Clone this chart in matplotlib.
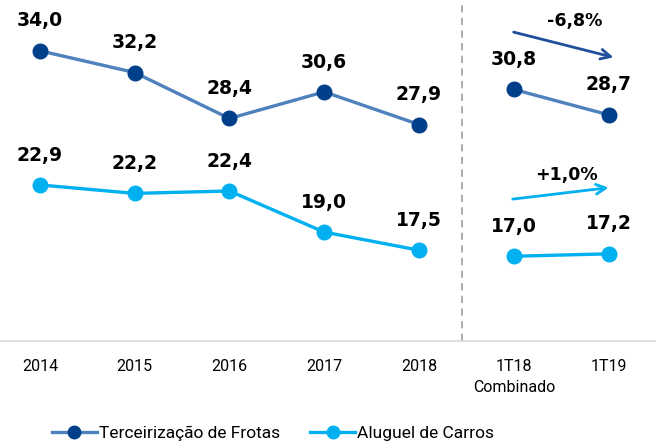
import matplotlib.pyplot as plt
from matplotlib.lines import Line2D

# ---- dati ----
categorias = ["2014", "2015", "2016", "2017", "2018", "1T18\nCombinado", "1T19"]
frotas_anual = [34.0, 32.2, 28.4, 30.6, 27.9]
frotas_tri = [30.8, 28.7]
carros_anual = [22.9, 22.2, 22.4, 19.0, 17.5]
carros_tri = [17.0, 17.2]
var_frotas = "-6,8%"
var_carros = "+1,0%"

cor_frotas_linha = "#4f81bd"
cor_frotas_ponto = "#003f8a"
cor_carros = "#00b0f0"

narrow = ["Roboto", "DejaVu Sans"]
bold_font = "DejaVu Sans"


def fmt(v):
    return f"{v:.1f}".replace(".", ",")


fig = plt.figure(figsize=(6.56, 4.45), dpi=100)
ax = fig.add_axes([0, 0.234, 1, 0.766])

x_anual = list(range(5))
x_tri = [5, 6]

# ---- linhas ----
for xs, ys in [(x_anual, frotas_anual), (x_tri, frotas_tri)]:
    ax.plot(xs, ys, color=cor_frotas_linha, lw=2.4, marker="o", ms=10.5,
            mfc=cor_frotas_ponto, mec=cor_frotas_ponto, zorder=3)
for xs, ys in [(x_anual, carros_anual), (x_tri, carros_tri)]:
    ax.plot(xs, ys, color=cor_carros, lw=2.4, marker="o", ms=10.5,
            mfc=cor_carros, mec=cor_carros, zorder=3)

# ---- rotulos ----
for xs, ys in [(x_anual, frotas_anual), (x_tri, frotas_tri),
               (x_anual, carros_anual), (x_tri, carros_tri)]:
    for xi, yi in zip(xs, ys):
        ax.annotate(fmt(yi), (xi, yi), xytext=(0, 21.5), textcoords="offset points",
                    ha="center", va="center", fontsize=13.5, fontweight="bold",
                    family=bold_font, color="black")

# ---- separador ----
ax.axvline(4.45, color="#a6a6a6", lw=1.3, ls=(0, (4, 3)), zorder=1)

# ---- setas de variacao ----
ax.annotate("", xy=(6.08, 33.4), xytext=(4.97, 35.6),
            arrowprops=dict(arrowstyle="->,head_length=0.7,head_width=0.35",
                            color="#1f4e9a", lw=2))
ax.text(5.64, 36.5, var_frotas, ha="center", va="center", fontsize=12.5,
        fontweight="bold", family=bold_font)
ax.annotate("", xy=(6.03, 22.7), xytext=(4.96, 21.7),
            arrowprops=dict(arrowstyle="->,head_length=0.7,head_width=0.35",
                            color=cor_carros, lw=2))
ax.text(5.55, 23.7, var_carros, ha="center", va="center", fontsize=12.5,
        fontweight="bold", family=bold_font)

# ---- eixos ----
ax.set_xlim(-0.42, 6.5)
ax.set_ylim(10, 38.2)
for s in ["top", "right", "left"]:
    ax.spines[s].set_visible(False)
ax.spines["bottom"].set_color("#d9d9d9")
ax.spines["bottom"].set_linewidth(1.2)
ax.set_yticks([])
ax.set_xticks(range(len(categorias)))
ax.set_xticklabels(categorias, family=narrow, fontsize=11.5, linespacing=1.5)
ax.tick_params(axis="x", length=0, pad=13)

# ---- legenda ----
handles = [
    Line2D([], [], color=cor_frotas_linha, lw=2.4, marker="o", ms=9,
           mfc=cor_frotas_ponto, mec=cor_frotas_ponto),
    Line2D([], [], color=cor_carros, lw=2.4, marker="o", ms=9,
           mfc=cor_carros, mec=cor_carros),
]
fig.legend(handles, ["Terceirização de Frotas", "Aluguel de Carros"],
           loc="center left", bbox_to_anchor=(0.079, 0.025), ncol=2, frameon=False,
           prop={"family": narrow, "size": 12.5}, handlelength=2.6,
           handletextpad=0.1, columnspacing=1.75, borderpad=0, borderaxespad=0)

fig.savefig("out.png", dpi=100)
